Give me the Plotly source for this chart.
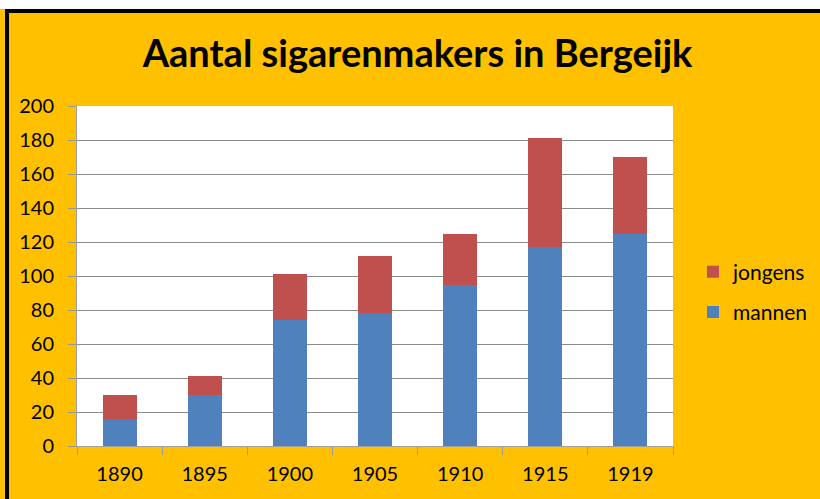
import plotly.graph_objects as go

years = ["1890", "1895", "1900", "1905", "1910", "1915", "1919"]
mannen = [16, 30, 74, 78, 95, 117, 125]
totaal = [30, 41, 101, 112, 125, 181, 170]
jongens = [t - m for t, m in zip(totaal, mannen)]
y_ticks = [0, 20, 40, 60, 80, 100, 120, 140, 160, 180, 200]

FONT = "Lato"
PW, PH, L, T = 596, 340, 77, 106


def px(x):
    return (x - L) / PW


def py(y):
    return (T + PH - y) / PH


fig = go.Figure()
fig.add_trace(go.Bar(x=years, y=mannen, name="mannen", marker=dict(color="#4F81BD", line=dict(width=0)),
                     legendgroup="m", legendrank=2))
fig.add_trace(go.Bar(x=years, y=jongens, name="jongens", marker=dict(color="#C0504D", line=dict(width=0)),
                     legendgroup="j", legendrank=1))

fig.update_layout(
    width=820, height=499,
    barmode="stack", bargap=0.6,
    paper_bgcolor="#FFC000", plot_bgcolor="#FFFFFF",
    margin=dict(l=77, r=147, t=106, b=53, autoexpand=False),
    font=dict(family=FONT, color="#000000", size=20),
    title=dict(text="<b>Aantal sigarenmakers in Bergeijk</b>", x=417.5 / 820, xanchor="center",
               xref="container",
               y=1 - 54 / 499, yanchor="middle", font=dict(family=FONT, size=38, color="#000000")),
    legend=dict(x=px(693), y=py(292), yanchor="middle", xanchor="left",
                tracegroupgap=10, bgcolor="rgba(0,0,0,0)",
                font=dict(family=FONT, size=21)),
    showlegend=True,
)
fig.update_xaxes(type="category", tickson="boundaries", ticks="outside", ticklen=8, tickcolor="#999999",
                 showline=True, linecolor="#A0A0A0", linewidth=1, showgrid=False, automargin=False,
                 tickfont=dict(family=FONT, size=20), ticklabelstandoff=10)
fig.update_yaxes(range=[0, 200], tickvals=y_ticks, ticks="outside", ticklen=8, tickcolor="#999999",
                 showline=True, linecolor="#A0A0A0", linewidth=1, gridcolor="#8C8C8C", gridwidth=1,
                 automargin=False, tickfont=dict(family=FONT, size=20), zeroline=False, ticklabelstandoff=10)

# frame decoration: white strip on top, black border top and left
fig.add_shape(type="rect", xref="paper", yref="paper", x0=px(-5), x1=px(830), y0=py(9), y1=py(-5),
              fillcolor="#FFFFFF", line=dict(width=0), layer="above")
fig.add_shape(type="rect", xref="paper", yref="paper", x0=px(5), x1=px(830), y0=py(13), y1=py(9),
              fillcolor="#000000", line=dict(width=0), layer="above")
fig.add_shape(type="rect", xref="paper", yref="paper", x0=px(5), x1=px(9), y0=py(505), y1=py(9),
              fillcolor="#000000", line=dict(width=0), layer="above")

fig.write_html("out.html", config={"displayModeBar": False},
               post_script="document.body.style.margin='0';document.body.style.padding='0';")
